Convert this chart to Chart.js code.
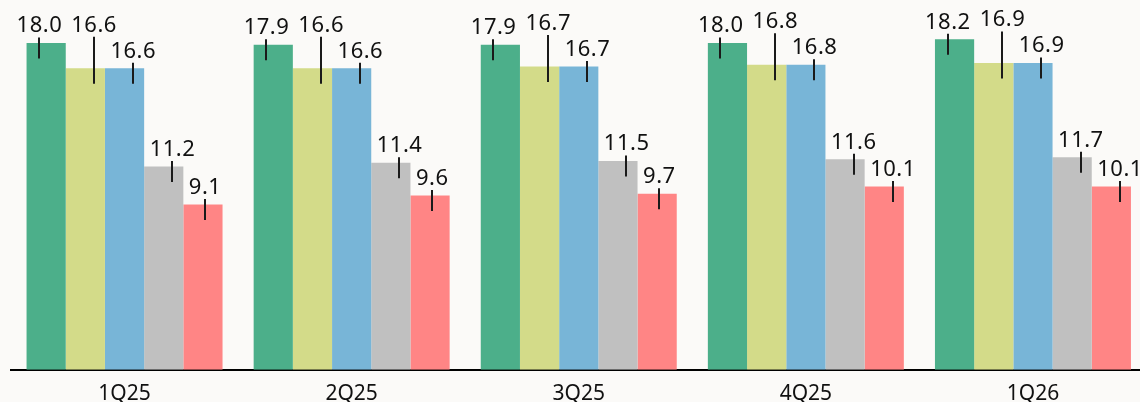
<!DOCTYPE html>
<html>
<head>
<meta charset="utf-8">
<script src="https://cdn.jsdelivr.net/npm/chart.js@4/dist/chart.umd.min.js"></script>
<style>
  html, body { margin: 0; padding: 0; background: #fbfaf8; overflow: hidden; }
  #wrap { width: 1150px; height: 419px; }
</style>
</head>
<body>
<div id="wrap"><canvas id="chart"></canvas></div>
<script>
const quarters = ['1Q25', '2Q25', '3Q25', '4Q25', '1Q26']
const seriesA = [18.0, 17.9, 17.9, 18.0, 18.2]
const seriesB = [16.6, 16.6, 16.7, 16.8, 16.9]
const seriesC = [16.6, 16.6, 16.7, 16.8, 16.9]
const seriesD = [11.2, 11.4, 11.5, 11.6, 11.7]
const seriesE = [9.1, 9.6, 9.7, 10.1, 10.1]
const colors = ['#4caf8a', '#d3db89', '#78b5d7', '#c0c0c0', '#ff8585']

// how each series places its value label: anchor side and extra lift
const labelPlacement = [
  { align: 'right', lift: 0 },
  { align: 'left', lift: 26 },
  { align: 'left', lift: 0 },
  { align: 'left', lift: 0 },
  { align: 'left', lift: 0 }
]

const valueLabels = {
  id: 'valueLabels',
  afterDatasetsDraw(chart) {
    const ctx = chart.ctx
    ctx.save()
    ctx.font = '22px "Noto Sans"'
    ctx.letterSpacing = '0.5px'
    ctx.fillStyle = '#111'
    ctx.strokeStyle = '#1a1a1a'
    ctx.lineWidth = 2
    ctx.textBaseline = 'alphabetic'
    ctx.textAlign = 'left'
    chart.data.datasets.forEach((ds, di) => {
      const meta = chart.getDatasetMeta(di)
      const place = labelPlacement[di]
      meta.data.forEach((bar, i) => {
        const text = ds.data[i].toFixed(1)
        const w = ctx.measureText(text).width - 0.5
        const left = bar.x - bar.width / 2
        const right = bar.x + bar.width / 2
        const tx = place.align === 'right' ? right - 4 - w : left + 5.5
        const base = bar.y - 10.5 - place.lift
        ctx.fillText(text, tx, base)
        const cx = Math.round(tx + w / 2)
        ctx.beginPath()
        ctx.moveTo(cx, base + 5)
        ctx.lineTo(cx, bar.y + 15.5)
        ctx.stroke()
      })
    })
    ctx.restore()
  }
}

const seriesList = [seriesA, seriesB, seriesC, seriesD, seriesE]

new Chart(document.getElementById('chart'), {
  type: 'bar',
  data: {
    labels: quarters,
    datasets: seriesList.map((s, i) => ({
      data: s,
      backgroundColor: colors[i],
      borderWidth: 0,
      categoryPercentage: 0.863,
      barPercentage: 1
    }))
  },
  options: {
    responsive: true,
    maintainAspectRatio: false,
    animation: false,
    layout: { padding: { left: 11, right: 3.5, top: 6.6, bottom: 0 } },
    plugins: { legend: { display: false }, tooltip: { enabled: false } },
    scales: {
      x: {
        grid: { display: false, drawTicks: false },
        border: { display: true, color: '#000', width: 2 },
        ticks: { color: '#111', font: { family: 'Noto Sans', size: 21 }, padding: 12 }
      },
      y: { display: false, min: 0, max: 20 }
    }
  },
  plugins: [valueLabels]
})
</script>
</body>
</html>
